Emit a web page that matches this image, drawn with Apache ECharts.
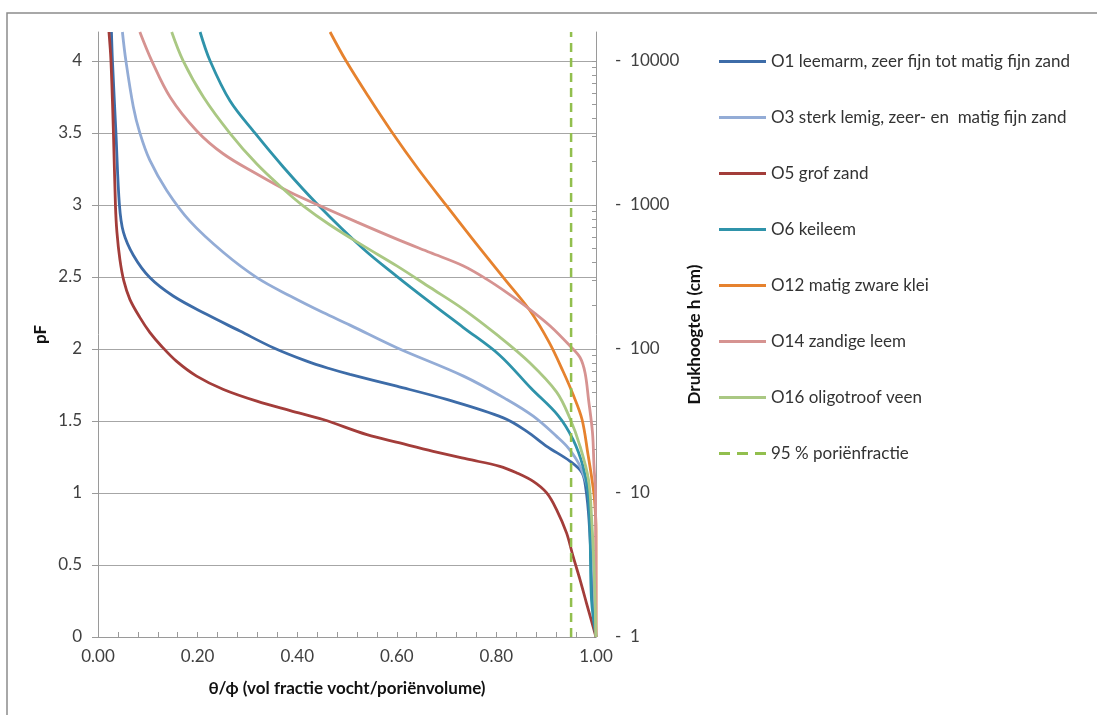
<!DOCTYPE html>
<html><head><meta charset="utf-8">
<script src="https://cdn.jsdelivr.net/npm/echarts@6/dist/echarts.min.js"></script>
<style>html,body{margin:0;padding:0;background:#fff}#c{width:1097px;height:715px}</style>
</head><body><div id="c"></div>
<script>
// [theta/phi, pF]
const O1 = [[0.027,4.2],[0.029,4.0],[0.036,3.5],[0.043,3.0],[0.051,2.81],[0.071,2.65],[0.104,2.495],[0.151,2.367],[0.218,2.24],[0.285,2.124],[0.352,2.008],[0.419,1.915],[0.466,1.862],[0.506,1.823],[0.600,1.741],[0.700,1.649],[0.814,1.521],[0.861,1.428],[0.901,1.324],[0.948,1.22],[0.972,1.14],[0.980,1.02],[0.986,0.81],[0.991,0.47],[0.994,0.26],[1.0,0]];
const O3 = [[0.049,4.2],[0.056,4.0],[0.071,3.68],[0.084,3.5],[0.104,3.31],[0.138,3.10],[0.185,2.885],[0.252,2.669],[0.319,2.495],[0.386,2.367],[0.452,2.252],[0.506,2.165],[0.600,2.008],[0.734,1.811],[0.821,1.649],[0.874,1.533],[0.921,1.393],[0.945,1.31],[0.968,1.185],[0.985,1.0],[0.993,0.6],[1.0,0]];
const O5 = [[0.022,4.2],[0.026,4.0],[0.031,3.5],[0.035,3.0],[0.038,2.81],[0.044,2.62],[0.052,2.47],[0.064,2.344],[0.084,2.219],[0.104,2.115],[0.128,2.017],[0.158,1.913],[0.198,1.811],[0.252,1.718],[0.319,1.637],[0.386,1.572],[0.452,1.510],[0.540,1.405],[0.606,1.347],[0.673,1.289],[0.740,1.236],[0.807,1.185],[0.841,1.139],[0.874,1.080],[0.901,1.000],[0.921,0.883],[0.941,0.721],[0.954,0.559],[0.968,0.397],[0.981,0.234],[1.0,0]];
const O6 = [[0.205,4.2],[0.225,4.0],[0.265,3.722],[0.315,3.499],[0.372,3.263],[0.440,3.006],[0.532,2.697],[0.600,2.504],[0.667,2.323],[0.733,2.150],[0.806,1.958],[0.870,1.725],[0.924,1.537],[0.954,1.370],[0.974,1.183],[0.984,1.002],[0.988,0.723],[0.991,0.257],[1.0,0]];
const O12 = [[0.466,4.2],[0.498,4.0],[0.542,3.757],[0.590,3.506],[0.643,3.249],[0.699,2.998],[0.757,2.741],[0.817,2.483],[0.867,2.268],[0.906,2.045],[0.934,1.843],[0.954,1.683],[0.972,1.51],[0.984,1.266],[0.992,1.092],[0.997,0.953],[1.0,0.744],[1.0,0]];
const O14 = [[0.084,4.2],[0.108,4.0],[0.145,3.747],[0.198,3.515],[0.252,3.353],[0.319,3.214],[0.386,3.087],[0.446,2.993],[0.520,2.88],[0.600,2.762],[0.667,2.669],[0.734,2.576],[0.781,2.483],[0.821,2.391],[0.867,2.275],[0.908,2.159],[0.948,2.02],[0.968,1.94],[0.978,1.834],[0.985,1.649],[0.993,1.417],[0.996,1.185],[0.999,1.0],[1.0,0]];
const O16 = [[0.148,4.2],[0.171,4.0],[0.212,3.747],[0.265,3.497],[0.319,3.283],[0.372,3.11],[0.412,2.993],[0.466,2.86],[0.533,2.715],[0.600,2.576],[0.667,2.426],[0.734,2.275],[0.804,2.09],[0.867,1.904],[0.921,1.70],[0.948,1.515],[0.968,1.324],[0.985,1.092],[0.991,0.837],[0.996,0.49],[1.0,0]];
const PORE95 = [[0.95,0],[0.95,4.2]];

const seriesNames = ['O1 leemarm, zeer fijn tot matig fijn zand','O3 sterk lemig, zeer- en  matig fijn zand','O5 grof zand','O6 keileem','O12 matig zware klei','O14 zandige leem','O16 oligotroof veen','95 % poriënfractie'];
const seriesData = [O1,O3,O5,O6,O12,O14,O16,PORE95];
const colors = ['#3D6CA8','#93ACD6','#A33D3A','#2F93AA','#E6822E','#D69391','#AAC883','#92BF4E'];

const xLabelValues = [0,0.2,0.4,0.6,0.8,1.0];
const xTickValues = [];
for (let i = 0; i <= 25; i++) xTickValues.push(+(i*0.04).toFixed(2));
const pFValues = [0,0.5,1,1.5,2,2.5,3,3.5,4];
const hLabelValues = [0,1,2,3,4];
const hMinorTicks = [];
for (let n = 0; n < 4; n++) for (let k = 1; k <= 9; k++) hMinorTicks.push(n + Math.log10(k));
hMinorTicks.push(4);

const SOLID_ICON = 'path://M0,0H47V3H0Z';
const DASH_ICON = 'path://M0,0H11V3H0Z M18,0H29V3H18Z M36,0H47V3H36Z';

const FONT = 'Lato, "Open Sans", sans-serif';
const FS = 17;
const chart = echarts.init(document.getElementById('c'), null, {renderer:'canvas'});
chart.setOption({
  animation: false,
  color: colors,
  textStyle: {fontFamily: FONT},
  graphic: [{type:'rect', shape:{x:7,y:13,width:1200,height:800}, style:{fill:'none', stroke:'#8c8c8c', lineWidth:1.5}, silent:true, z:-10}],
  grid: {left:98, right:501, top:32, bottom:78, containLabel:false},
  legend: {
    orient:'vertical', left:719, top:53, padding:0, itemWidth:47, itemHeight:14, itemGap:39,
    textStyle:{fontFamily:FONT, fontSize:FS, color:'#333'},
    data: seriesNames.map((n,i)=>({name:n, icon: i===7 ? DASH_ICON : SOLID_ICON}))
  },
  xAxis: {
    type:'value', min:0, max:1,
    name:'θ/ϕ (vol fractie vocht/poriënvolume)', nameLocation:'middle', nameGap:43,
    nameTextStyle:{fontFamily:FONT, fontSize:FS, fontWeight:'bold', color:'#111'},
    axisLine:{show:true, lineStyle:{color:'#9a9a9a', width:1}},
    axisTick:{show:true, inside:true, length:5, customValues:xTickValues, lineStyle:{color:'#9a9a9a'}},
    axisLabel:{customValues:xLabelValues, formatter:v=>v.toFixed(2), fontFamily:FONT, fontSize:FS, color:'#404040', margin:11},
    splitLine:{show:false}
  },
  yAxis: [{
    type:'value', min:0, max:4.2, position:'left',
    name:'pF', nameLocation:'middle', nameGap:49,
    nameTextStyle:{fontFamily:FONT, fontSize:FS, fontWeight:'bold', color:'#111'},
    axisLine:{show:true, lineStyle:{color:'#9a9a9a'}},
    axisTick:{show:true, inside:false, length:6, customValues:pFValues, lineStyle:{color:'#9a9a9a'}},
    axisLabel:{customValues:pFValues, fontFamily:FONT, fontSize:FS, color:'#404040', margin:16},
    splitLine:{show:true, lineStyle:{color:'#a6a6a6', width:1}}
  },{
    type:'value', min:0, max:4.2, position:'right',
    name:'Drukhoogte h (cm)', nameLocation:'middle', nameGap:90,
    nameTextStyle:{fontFamily:FONT, fontSize:FS, fontWeight:'bold', color:'#111'},
    axisLine:{show:true, lineStyle:{color:'#9a9a9a'}},
    axisTick:{show:true, inside:true, length:4, customValues:hMinorTicks, lineStyle:{color:'#9a9a9a'}},
    axisLabel:{customValues:hLabelValues, formatter:v=>'-  ' + Math.round(Math.pow(10,v)), fontFamily:FONT, fontSize:FS, color:'#404040', margin:19},
    splitLine:{show:false}
  }],
  series: seriesData.map((d,i)=>({
    name: seriesNames[i], type:'line', data:d, yAxisIndex:0,
    symbol:'none', smooth: i===7 ? false : 0.35, clip:true,
    lineStyle:{width: i===7 ? 2.5 : 2.8, color:colors[i], type: i===7 ? [9,6] : 'solid'},
    itemStyle:{color:colors[i]}
  }))
});
</script></body></html>
